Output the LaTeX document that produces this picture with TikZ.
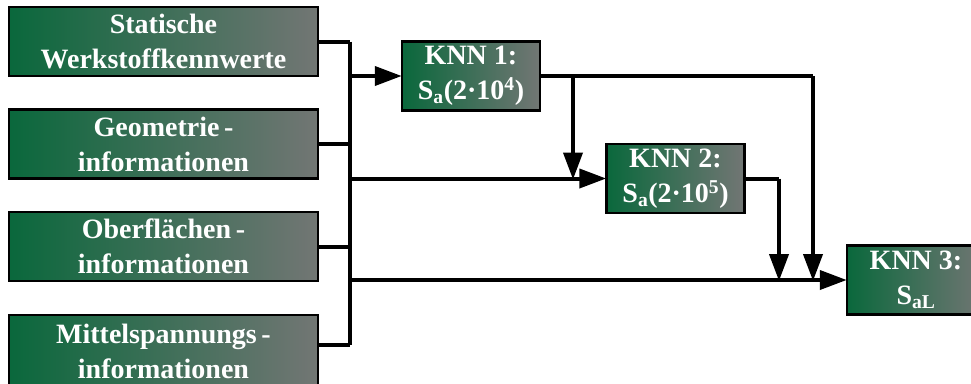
\documentclass[tikz,border=0pt]{standalone}
\usepackage{fontspec}
\setmainfont{Liberation Serif}
\usetikzlibrary{arrows.meta}
\definecolor{boxgreen}{RGB}{10,104,60}
\definecolor{boxgray}{RGB}{114,118,116}
\tikzset{
  databox/.style={draw=black, line width=2.5pt, left color=boxgreen, right color=boxgray,
    minimum width=309pt, minimum height=69pt, inner sep=0pt, text=white, align=center,
    font=\fontsize{28}{35}\selectfont\bfseries},
  netbox/.style={databox, minimum width=138pt},
  wire/.style={line width=4pt, line join=miter},
  feed/.style={wire, -{Triangle[length=27pt,width=19pt]}, shorten >=-1pt}
}
\begin{document}
\begin{tikzpicture}[x=1pt,y=-1pt]
\clip (0,0) rectangle (971,383);
\useasboundingbox (0,0) rectangle (971,383);

% input data blocks
\node[databox] (in1) at (163.5,41.5) {Statische\\Werkstoffkennwerte};
\node[databox] (in2) at (163.5,144) {Geometrie\,-\\informationen};
\node[databox] (in3) at (163.5,246.5) {Oberflächen\,-\\informationen};
\node[databox, minimum height=72pt] (in4) at (163.5,351) {Mittelspannungs\,-\\informationen};

% neural networks
\node[netbox] (k1) at (471,76) {KNN 1:\\S\textsubscript{a}(2·10\textsuperscript{4})};
\node[netbox] (k2) at (675.5,178.5) {KNN 2:\\S\textsubscript{a}(2·10\textsuperscript{5})};
\node[netbox] (k3) at (916,280) {KNN 3:\\S\textsubscript{aL}};

% collecting bus
\coordinate (bTop) at (350,41.5);
\coordinate (bBot) at (350,345);
\coordinate (b1) at (350,76);
\coordinate (b2) at (350,178.5);
\coordinate (b3) at (350,280);
\draw[wire] (bTop) -- (bBot);
\draw[wire] (in1.east) -- (bTop);
\draw[wire] (in2.east) -- (in2.east -| bTop);
\draw[wire] (in3.east) -- (in3.east -| bTop);
\draw[wire] (bBot -| in4.east) -- (bBot);

% feeds from the bus
\draw[feed] (b1) -- (k1.west);
\draw[feed] (b2) -- (k2.west);
\draw[feed] (b3) -- (k3.west);

% outputs of KNN 1 and KNN 2
\coordinate (j1) at (573,76);
\coordinate (j2) at (813,76);
\coordinate (j3) at (779,178.5);
\draw[wire] (k1.east) -- (j2);
\draw[feed] (j1) -- (j1 |- b2);
\draw[feed] (j2) -- (j2 |- b3);
\draw[wire] (k2.east) -- (j3);
\draw[feed] (j3) -- (j3 |- b3);
\end{tikzpicture}
\end{document}
